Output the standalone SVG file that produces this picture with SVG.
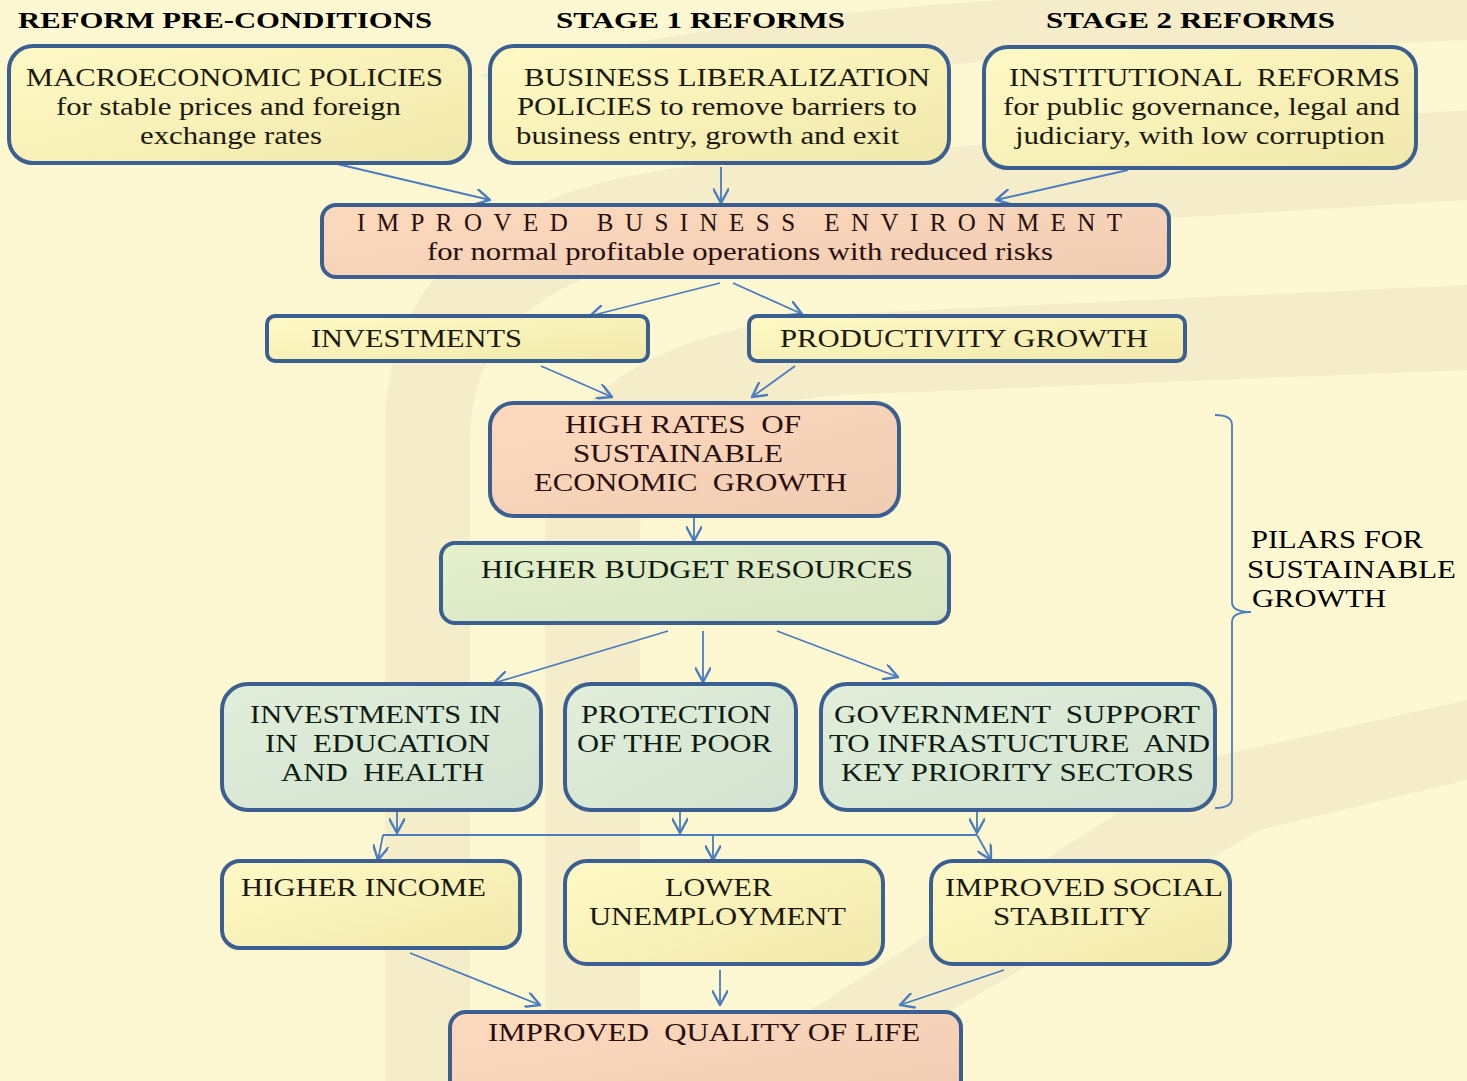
<svg xmlns="http://www.w3.org/2000/svg" width="1467" height="1081" viewBox="0 0 1467 1081" xml:space="preserve">
<defs>
<linearGradient id="gY" x1="0" y1="0" x2="1" y2="1"><stop offset="0" stop-color="#fff9c6"/><stop offset="1" stop-color="#f1e9ab"/></linearGradient>
<linearGradient id="gS" x1="0" y1="0" x2="1" y2="1"><stop offset="0" stop-color="#fdd9be"/><stop offset="1" stop-color="#f0ccb2"/></linearGradient>
<linearGradient id="gG" x1="0" y1="0" x2="1" y2="1"><stop offset="0" stop-color="#e6f0cc"/><stop offset="1" stop-color="#d7e5c3"/></linearGradient>
<linearGradient id="gT" x1="0" y1="0" x2="1" y2="1"><stop offset="0" stop-color="#e1efda"/><stop offset="1" stop-color="#d2e2d0"/></linearGradient>
<marker id="ah" markerUnits="userSpaceOnUse" markerWidth="16" markerHeight="16" viewBox="0 0 12 12" refX="11" refY="6" orient="auto">
<path d="M0,0 L11,6 L0,12" fill="none" stroke="#4a7cc0" stroke-width="1.8"/>
</marker>
<style>
.box{stroke:#3b5f90;stroke-width:4}
.y{fill:url(#gY)}.s{fill:url(#gS)}.g{fill:url(#gG)}.t{fill:url(#gT)}
text{font-family:"Liberation Serif","Times New Roman",serif;fill:#1c1a0c;white-space:pre}
.h{font-weight:bold;font-size:24px;fill:#000}
.n{font-size:25px}
.c{stroke:#4a7cc0;stroke-width:1.8;fill:none}
.a{marker-end:url(#ah)}
.wm{fill:#ebe1c0;opacity:0.45}
</style>
</defs>
<rect width="1467" height="1081" fill="#fdf8d2"/>
<g id="watermark">
<path class="wm" d="M385,1081 L385,430 Q385,200 700,165 L1467,110 L1467,200 L730,245 Q470,270 470,440 L470,1081 Z"/>
<path class="wm" d="M545,1081 L545,500 Q560,345 820,315 L1467,285 L1467,370 L840,395 Q640,410 640,530 L640,1081 Z"/>
<path class="wm" d="M480,75 Q700,20 1000,0 L1467,0 L1467,40 L1000,60 Q760,80 600,140 Z"/>
<path class="wm" d="M700,1081 L1200,760 L1467,700 L1467,780 L1260,830 L830,1081 Z"/>
</g>
<g id="headers">
<text class="h" x="18" y="28" textLength="414" lengthAdjust="spacingAndGlyphs">REFORM PRE-CONDITIONS</text>
<text class="h" x="556" y="28" textLength="289" lengthAdjust="spacingAndGlyphs">STAGE 1 REFORMS</text>
<text class="h" x="1046" y="28" textLength="289" lengthAdjust="spacingAndGlyphs">STAGE 2 REFORMS</text>
</g>
<g id="connectors">
<line class="c a" x1="333" y1="163" x2="490" y2="200"/>
<line class="c a" x1="721" y1="167" x2="721" y2="203"/>
<line class="c a" x1="1128" y1="170" x2="996" y2="200"/>
<line class="c a" x1="720" y1="283" x2="590" y2="316"/>
<line class="c a" x1="733" y1="283" x2="802" y2="314"/>
<line class="c a" x1="541" y1="366" x2="612" y2="397"/>
<line class="c a" x1="795" y1="366" x2="752" y2="397"/>
<line class="c a" x1="694" y1="518" x2="694" y2="541"/>
<line class="c a" x1="668" y1="631" x2="494" y2="683"/>
<line class="c a" x1="703" y1="631" x2="703" y2="682"/>
<line class="c a" x1="777" y1="631" x2="898" y2="677"/>
<line class="c a" x1="397" y1="812" x2="397" y2="833"/>
<line class="c a" x1="680" y1="812" x2="680" y2="833"/>
<line class="c a" x1="977" y1="812" x2="977" y2="833"/>
<line class="c" x1="383" y1="835" x2="977" y2="835"/>
<line class="c a" x1="383" y1="835" x2="378" y2="860"/>
<line class="c a" x1="713" y1="835" x2="713" y2="860"/>
<line class="c a" x1="977" y1="835" x2="991" y2="860"/>
<line class="c a" x1="410" y1="953" x2="540" y2="1005"/>
<line class="c a" x1="720" y1="970" x2="720" y2="1005"/>
<line class="c a" x1="1004" y1="970" x2="900" y2="1005"/>
<path class="c" d="M1215,415 Q1232,415 1232,425 L1232,602 Q1232,612 1251,612 Q1232,612 1232,622 L1232,798 Q1232,808 1215,808"/>
</g>
<g id="n-macro">
<rect class="box y" x="9" y="46" width="461" height="117" rx="24"/>
<text class="n" x="26" y="86" textLength="417" lengthAdjust="spacingAndGlyphs">MACROECONOMIC POLICIES</text>
<text class="n" x="56" y="115" textLength="345" lengthAdjust="spacingAndGlyphs">for stable prices and foreign</text>
<text class="n" x="140" y="144" textLength="182" lengthAdjust="spacingAndGlyphs">exchange rates</text>
</g>
<g id="n-business">
<rect class="box y" x="490" y="46" width="459" height="117" rx="24"/>
<text class="n" x="524" y="86" textLength="406" lengthAdjust="spacingAndGlyphs">BUSINESS LIBERALIZATION</text>
<text class="n" x="517" y="115" textLength="400" lengthAdjust="spacingAndGlyphs">POLICIES to remove barriers to</text>
<text class="n" x="516" y="144" textLength="383" lengthAdjust="spacingAndGlyphs">business entry, growth and exit</text>
</g>
<g id="n-institutional">
<rect class="box y" x="984" y="47" width="432" height="121" rx="24"/>
<text class="n" x="1009" y="86" textLength="391" lengthAdjust="spacingAndGlyphs">INSTITUTIONAL  REFORMS</text>
<text class="n" x="1003" y="115" textLength="397" lengthAdjust="spacingAndGlyphs">for public governance, legal and</text>
<text class="n" x="1015" y="144" textLength="370" lengthAdjust="spacingAndGlyphs">judiciary, with low corruption</text>
</g>
<g id="n-environment">
<rect class="box s" x="322" y="205" width="847" height="72" rx="14"/>
<text class="n" x="357" y="231" font-size="23" textLength="765" lengthAdjust="spacing" style="fill:#2a0f0f">IMPROVED BUSINESS ENVIRONMENT</text>
<text class="n" x="427" y="260" textLength="626" lengthAdjust="spacingAndGlyphs" style="fill:#2a0f0f">for normal profitable operations with reduced risks</text>
</g>
<g id="n-investments">
<rect class="box y" x="267" y="316" width="381" height="45" rx="8"/>
<text class="n" x="311" y="347" textLength="211" lengthAdjust="spacingAndGlyphs">INVESTMENTS</text>
</g>
<g id="n-productivity">
<rect class="box y" x="749" y="316" width="436" height="45" rx="8"/>
<text class="n" x="780" y="347" textLength="368" lengthAdjust="spacingAndGlyphs">PRODUCTIVITY GROWTH</text>
</g>
<g id="n-growth">
<rect class="box s" x="490" y="403" width="409" height="113" rx="24"/>
<text class="n" x="565" y="433" textLength="236" lengthAdjust="spacingAndGlyphs" style="fill:#2a0f0f">HIGH RATES  OF</text>
<text class="n" x="573" y="462" textLength="210" lengthAdjust="spacingAndGlyphs" style="fill:#2a0f0f">SUSTAINABLE</text>
<text class="n" x="534" y="491" textLength="313" lengthAdjust="spacingAndGlyphs" style="fill:#2a0f0f">ECONOMIC  GROWTH</text>
</g>
<g id="n-budget">
<rect class="box g" x="441" y="543" width="508" height="80" rx="14"/>
<text class="n" x="481" y="578" textLength="432" lengthAdjust="spacingAndGlyphs" style="fill:#0f1c0f">HIGHER BUDGET RESOURCES</text>
</g>
<g id="n-education">
<rect class="box t" x="222" y="684" width="319" height="126" rx="26"/>
<text class="n" x="250" y="723" textLength="251" lengthAdjust="spacingAndGlyphs" style="fill:#0f1c14">INVESTMENTS IN</text>
<text class="n" x="265" y="752" textLength="225" lengthAdjust="spacingAndGlyphs" style="fill:#0f1c14">IN  EDUCATION</text>
<text class="n" x="281" y="781" textLength="203" lengthAdjust="spacingAndGlyphs" style="fill:#0f1c14">AND  HEALTH</text>
</g>
<g id="n-poor">
<rect class="box t" x="565" y="684" width="231" height="126" rx="26"/>
<text class="n" x="581" y="723" textLength="190" lengthAdjust="spacingAndGlyphs" style="fill:#0f1c14">PROTECTION</text>
<text class="n" x="577" y="752" textLength="195" lengthAdjust="spacingAndGlyphs" style="fill:#0f1c14">OF THE POOR</text>
</g>
<g id="n-government">
<rect class="box t" x="821" y="684" width="394" height="126" rx="26"/>
<text class="n" x="834" y="723" textLength="366" lengthAdjust="spacingAndGlyphs" style="fill:#0f1c14">GOVERNMENT  SUPPORT</text>
<text class="n" x="829" y="752" textLength="381" lengthAdjust="spacingAndGlyphs" style="fill:#0f1c14">TO INFRASTUCTURE  AND</text>
<text class="n" x="841" y="781" textLength="353" lengthAdjust="spacingAndGlyphs" style="fill:#0f1c14">KEY PRIORITY SECTORS</text>
</g>
<g id="n-income">
<rect class="box y" x="222" y="861" width="298" height="87" rx="18"/>
<text class="n" x="241" y="896" textLength="245" lengthAdjust="spacingAndGlyphs">HIGHER INCOME</text>
</g>
<g id="n-unemployment">
<rect class="box y" x="565" y="861" width="318" height="103" rx="22"/>
<text class="n" x="665" y="896" textLength="107" lengthAdjust="spacingAndGlyphs">LOWER</text>
<text class="n" x="589" y="925" textLength="257" lengthAdjust="spacingAndGlyphs">UNEMPLOYMENT</text>
</g>
<g id="n-stability">
<rect class="box y" x="931" y="861" width="299" height="103" rx="22"/>
<text class="n" x="945" y="896" textLength="278" lengthAdjust="spacingAndGlyphs">IMPROVED SOCIAL</text>
<text class="n" x="993" y="925" textLength="158" lengthAdjust="spacingAndGlyphs">STABILITY</text>
</g>
<g id="n-quality">
<rect class="box s" x="450" y="1012" width="511" height="90" rx="16"/>
<text class="n" x="488" y="1041" textLength="432" lengthAdjust="spacingAndGlyphs" style="fill:#2a0f0f">IMPROVED  QUALITY OF LIFE</text>
</g>
<g id="n-pilars">
<text class="n" x="1251" y="548" textLength="172" lengthAdjust="spacingAndGlyphs" style="fill:#000">PILARS FOR</text>
<text class="n" x="1247" y="578" textLength="209" lengthAdjust="spacingAndGlyphs" style="fill:#000">SUSTAINABLE</text>
<text class="n" x="1252" y="607" textLength="134" lengthAdjust="spacingAndGlyphs" style="fill:#000">GROWTH</text>
</g>
</svg>
